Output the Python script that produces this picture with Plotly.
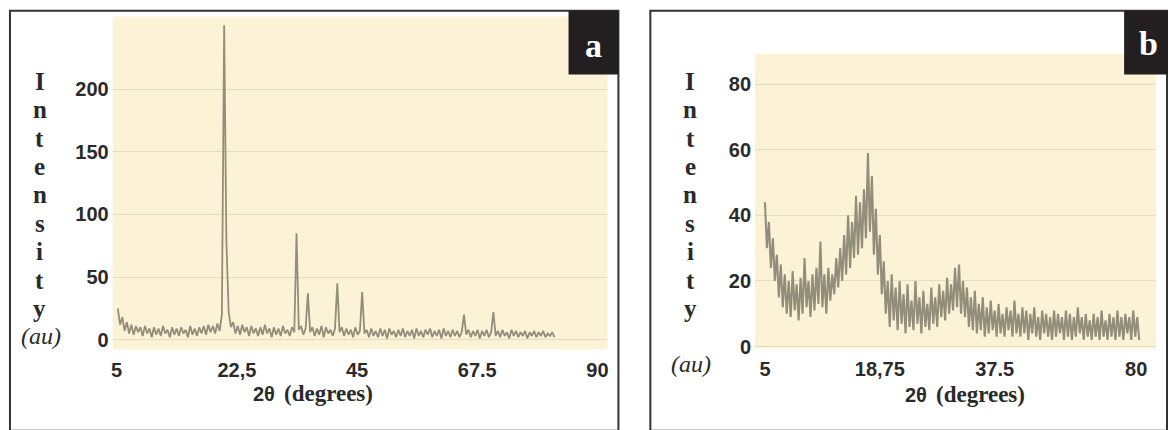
import numpy as np
import plotly.graph_objects as go

W, H = 1169, 430

# ---------------- data ----------------
# Panel a: 2θ grid start / step (axis units) and intensities
A_X_START = 5.2
A_X_STEP = 0.4
a_intensity = [
    25, 12, 18, 7, 14, 5, 12, 4, 11, 6, 10, 3, 11, 5, 9, 2, 10, 4, 9, 3,
    11, 5, 8, 2, 10, 4, 9, 3, 10, 5, 8, 2, 11, 4, 9, 3, 10, 5, 11, 4,
    12, 6, 11, 5, 13, 7, 20, 251, 78, 22, 10, 14, 5, 11, 4, 12, 6, 10, 3, 11,
    5, 9, 3, 10, 4, 12, 5, 9, 2, 10, 4, 9, 3, 11, 5, 8, 3, 10, 6, 85,
    8, 11, 4, 9, 37, 6, 10, 3, 9, 4, 11, 2, 10, 5, 8, 3, 9, 45, 6, 10,
    3, 9, 4, 8, 2, 10, 4, 7, 38, 5, 8, 2, 9, 3, 7, 2, 9, 3, 8, 1,
    9, 4, 7, 2, 8, 3, 9, 2, 7, 3, 8, 1, 9, 3, 7, 2, 8, 4, 9, 2,
    7, 3, 8, 1, 9, 3, 7, 2, 8, 3, 7, 2, 6, 20, 4, 8, 2, 7, 3, 8,
    1, 7, 3, 8, 2, 6, 22, 3, 7, 2, 8, 3, 6, 1, 8, 3, 7, 2, 6, 3,
    7, 1, 6, 3, 7, 2, 6, 3, 7, 2, 5, 3, 6, 2,
]
a_tickvals = [5, 26.25, 47.5, 68.75, 90]
a_ticktext = ["5", "22,5", "45", "67.5", "90"]
a_ytickvals = [0, 50, 100, 150, 200]

# Panel b
B_X_START = 5.0
B_X_STEP = 0.4
b_intensity = [
    44, 30, 38, 24, 33, 20, 28, 15, 25, 12, 22, 10, 20, 9, 23, 11, 19, 8, 21, 10,
    27, 12, 20, 9, 22, 11, 24, 13, 32, 12, 22, 10, 24, 14, 22, 16, 27, 18, 30, 20,
    34, 22, 40, 24, 38, 27, 46, 28, 44, 30, 48, 33, 59, 35, 52, 28, 42, 22, 34, 16,
    26, 10, 20, 6, 22, 8, 18, 5, 20, 7, 16, 4, 19, 6, 14, 5, 20, 7, 15, 4,
    17, 6, 13, 5, 18, 7, 15, 6, 19, 9, 17, 8, 21, 10, 19, 11, 24, 12, 25, 10,
    20, 9, 18, 6, 15, 5, 17, 4, 13, 5, 15, 3, 12, 4, 14, 5, 11, 3, 13, 4,
    10, 3, 12, 5, 11, 3, 14, 4, 10, 3, 12, 4, 11, 2, 10, 4, 12, 3, 9, 2,
    11, 4, 10, 3, 9, 2, 11, 3, 10, 4, 9, 2, 11, 3, 10, 2, 9, 3, 12, 4,
    9, 2, 10, 3, 8, 2, 10, 3, 9, 2, 11, 3, 8, 2, 10, 3, 9, 2, 11, 3,
    9, 2, 10, 4, 9, 2, 11, 3, 9, 2,
]
b_tickvals = [5, 28.2, 51.4, 80]
b_ticktext = ["5", "18,75", "37.5", "80"]
b_ytickvals = [0, 20, 40, 60, 80]

a_x = A_X_START + A_X_STEP * np.arange(len(a_intensity))
b_x = B_X_START + B_X_STEP * np.arange(len(b_intensity))

# ---------------- styling ----------------
LINE_COLOR = "#938e7c"
PLOT_BG = "#fcf2d5"
GRID = "#e5dbbd"
TXT = "#2a2a2a"


def px_x(p):
    return p / W


def px_y(p):
    return 1 - p / H


fig = go.Figure()
fig.add_trace(go.Scatter(x=a_x, y=a_intensity, mode="lines",
                         line=dict(color=LINE_COLOR, width=1.8),
                         xaxis="x", yaxis="y", showlegend=False))
fig.add_trace(go.Scatter(x=b_x, y=b_intensity, mode="lines",
                         line=dict(color=LINE_COLOR, width=2.1),
                         xaxis="x2", yaxis="y2", showlegend=False))

tickfont = dict(family="Liberation Sans", size=20, color=TXT, weight="bold")

common_x = dict(showgrid=False, zeroline=False, showline=False, ticks="",
                tickfont=tickfont, tickmode="array", ticklabelstandoff=6)
common_y = dict(showgrid=True, gridcolor=GRID, gridwidth=1, zeroline=False,
                showline=False, ticks="", tickfont=tickfont, tickmode="array",
                ticklabelstandoff=3)

fig.update_layout(
    width=W, height=H,
    margin=dict(l=0, r=0, t=0, b=0),
    paper_bgcolor="white",
    plot_bgcolor=PLOT_BG,
    xaxis=dict(domain=[px_x(111), px_x(607)], range=[4.3, 91.76], anchor="y",
               tickvals=a_tickvals, ticktext=a_ticktext, **common_x),
    yaxis=dict(domain=[px_y(357), px_y(17)], range=[-7.8, 257.8], anchor="x",
               tickvals=a_ytickvals, **common_y),
    xaxis2=dict(domain=[px_x(755), px_x(1157)], range=[3, 84], anchor="y2",
                tickvals=b_tickvals, ticktext=b_ticktext, **common_x),
    yaxis2=dict(domain=[px_y(356), px_y(55)], range=[-0.6, 89.25], anchor="x2",
                tickvals=b_ytickvals, **common_y),
)

shapes = []
# panel borders
for x0, x1 in [(8, 618), (650, 1168)]:
    shapes.append(dict(type="rect", xref="paper", yref="paper",
                       x0=px_x(x0), x1=px_x(x1), y0=px_y(440), y1=px_y(11),
                       line=dict(color="#333333", width=2), fillcolor="rgba(0,0,0,0)",
                       layer="above"))
# label boxes
for x0, x1 in [(568, 618), (1125, 1169)]:
    shapes.append(dict(type="rect", xref="paper", yref="paper",
                       x0=px_x(x0), x1=px_x(x1), y0=px_y(76), y1=px_y(11),
                       line=dict(width=0), fillcolor="#231f20", layer="above"))
fig.update_layout(shapes=shapes)

ann = []
ann.append(dict(text="<b>a</b>", x=px_x(593), y=px_y(46), xref="paper", yref="paper",
                showarrow=False, font=dict(family="Liberation Serif", size=34, color="white"),
                xanchor="center", yanchor="middle"))
ann.append(dict(text="<b>b</b>", x=px_x(1149), y=px_y(44), xref="paper", yref="paper",
                showarrow=False, font=dict(family="Liberation Serif", size=34, color="white"),
                xanchor="center", yanchor="middle"))

letters = "Intensity"
for cx, au_y in [(38, 343), (690, 372)]:
    for i, ch in enumerate(letters):
        ann.append(dict(text=f"<b>{ch}</b>", x=px_x(cx), y=px_y(83 + 29 * i),
                        xref="paper", yref="paper", showarrow=False,
                        font=dict(family="Liberation Serif", size=25, color=TXT),
                        xanchor="center", yanchor="middle"))
    ann.append(dict(text="<i>(au)</i>", x=px_x(cx + 1), y=px_y(au_y), xref="paper", yref="paper",
                    showarrow=False, font=dict(family="Liberation Serif", size=24, color=TXT),
                    xanchor="center", yanchor="middle"))

for x_split, yc in [(276, 402), (929, 403)]:
    ann.append(dict(text="<b>2θ</b>", x=px_x(x_split), y=px_y(yc), xref="paper", yref="paper",
                    showarrow=False, font=dict(family="Liberation Sans", size=20, color=TXT),
                    xanchor="right", yanchor="middle"))
    ann.append(dict(text="<b>(degrees)</b>", x=px_x(x_split + 5), y=px_y(yc), xref="paper",
                    yref="paper", showarrow=False,
                    font=dict(family="Liberation Serif", size=23, color=TXT),
                    xanchor="left", yanchor="middle"))
fig.update_layout(annotations=ann)

fig.write_html("out.html")
